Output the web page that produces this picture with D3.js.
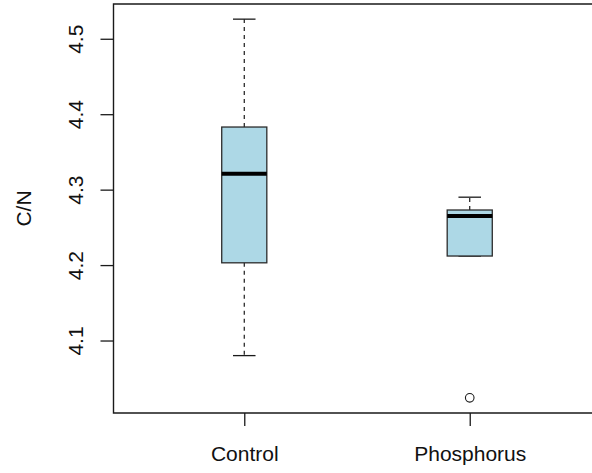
<!DOCTYPE html>
<html>
<head>
<meta charset="utf-8">
<script src="https://cdn.jsdelivr.net/npm/d3@7"></script>
<style>
  html, body { margin: 0; padding: 0; background: #fff; }
  svg { display: block; font-family: "Liberation Sans", Arial, sans-serif; }
</style>
</head>
<body>
<svg id="chart" width="592" height="473"></svg>
<script>
// Groups and their five-number summaries (C/N ratio)
const categories = ["Control", "Phosphorus"];
const whiskerLow = [4.080, 4.212];
const q1 = [4.203, 4.212];
const median = [4.321, 4.265];
const q3 = [4.383, 4.273];
const whiskerHigh = [4.526, 4.290];
// Outlying observations: [group index, value]
const outliers = [[1, 4.024]];
const yTicks = [4.1, 4.2, 4.3, 4.4, 4.5];
const yLabel = "C/N";

const svg = d3.select("#chart");
const W = 592, H = 473;
const plot = { left: 113.5, top: 4, right: 600.5, bottom: 413 };

// Group positions 1..n with R-style padding around [0.5, n + 0.5]
const n = categories.length;
const xPad = (n) * 0.04;
const x = d3.scaleLinear()
  .domain([0.5 - xPad, n + 0.5 + xPad])
  .range([plot.left, plot.right]);

const allVals = whiskerLow.concat(whiskerHigh, outliers.map(d => d[1]));
const lo = d3.min(allVals), hi = d3.max(allVals);
const yPad = (hi - lo) * 0.04;
const y = d3.scaleLinear()
  .domain([lo - yPad, hi + yPad])
  .range([plot.bottom, plot.top]);

const boxW = 0.2;            // box width in group units
const capW = boxW / 2;       // whisker cap width
const ink = "#1a1a1a";

const g = svg.append("g");

categories.forEach((cat, i) => {
  const cx = x(i + 1);
  const half = (x(i + 1 + boxW / 2) - x(i + 1));
  const capHalf = (x(i + 1 + capW / 2) - x(i + 1));

  // dashed whiskers
  g.append("line")
    .attr("x1", cx).attr("x2", cx)
    .attr("y1", y(q3[i])).attr("y2", y(whiskerHigh[i]))
    .attr("stroke", ink).attr("stroke-width", 1.2)
    .attr("stroke-dasharray", "4,4");
  g.append("line")
    .attr("x1", cx).attr("x2", cx)
    .attr("y1", y(q1[i])).attr("y2", y(whiskerLow[i]))
    .attr("stroke", ink).attr("stroke-width", 1.2)
    .attr("stroke-dasharray", "4,4");

  // caps
  [whiskerHigh[i], whiskerLow[i]].forEach(v => {
    g.append("line")
      .attr("x1", cx - capHalf).attr("x2", cx + capHalf)
      .attr("y1", y(v)).attr("y2", y(v))
      .attr("stroke", ink).attr("stroke-width", 1.3);
  });

  // box
  g.append("rect")
    .attr("x", cx - half)
    .attr("y", y(q3[i]))
    .attr("width", 2 * half)
    .attr("height", y(q1[i]) - y(q3[i]))
    .attr("fill", "#add8e6")
    .attr("stroke", "#2b2b2b")
    .attr("stroke-width", 1.3);

  // median
  g.append("line")
    .attr("x1", cx - half).attr("x2", cx + half)
    .attr("y1", y(median[i])).attr("y2", y(median[i]))
    .attr("stroke", "#000").attr("stroke-width", 4);
});

// outliers
g.selectAll("circle.out")
  .data(outliers)
  .enter().append("circle")
  .attr("class", "out")
  .attr("cx", d => x(d[0] + 1))
  .attr("cy", d => y(d[1]))
  .attr("r", 4.3)
  .attr("fill", "none")
  .attr("stroke", ink)
  .attr("stroke-width", 1.1);

// frame
svg.append("path")
  .attr("d", `M${W + 5},${plot.top}H${plot.left}V${plot.bottom}H${W + 5}`)
  .attr("fill", "none")
  .attr("stroke", ink)
  .attr("stroke-width", 1.4);

// y axis
const yAxis = svg.append("g")
  .attr("transform", `translate(${plot.left},0)`)
  .call(d3.axisLeft(y).tickValues(yTicks).tickSize(13).tickFormat(d3.format(".1f")));
yAxis.select(".domain").remove();
yAxis.selectAll(".tick line").attr("stroke", ink).attr("stroke-width", 1.3);
yAxis.selectAll(".tick text")
  .attr("transform", "rotate(-90)")
  .attr("x", 0).attr("y", -30.5).attr("dy", null)
  .attr("text-anchor", "middle")
  .attr("fill", "#111")
  .style("font-size", "21px");

// x axis
const xAxis = svg.append("g")
  .attr("transform", `translate(0,${plot.bottom})`)
  .call(d3.axisBottom(x).tickValues(d3.range(1, n + 1)).tickSize(13)
    .tickFormat(d => categories[d - 1]));
xAxis.select(".domain").remove();
xAxis.selectAll(".tick line").attr("stroke", ink).attr("stroke-width", 1.3);
xAxis.selectAll(".tick text")
  .attr("y", 48).attr("dy", null)
  .attr("fill", "#111")
  .style("font-size", "21px");

// y label
svg.append("text")
  .attr("transform", `translate(31,${(plot.top + plot.bottom) / 2}) rotate(-90)`)
  .attr("text-anchor", "middle")
  .attr("fill", "#111")
  .style("font-size", "21px")
  .text(yLabel);
</script>
</body>
</html>
